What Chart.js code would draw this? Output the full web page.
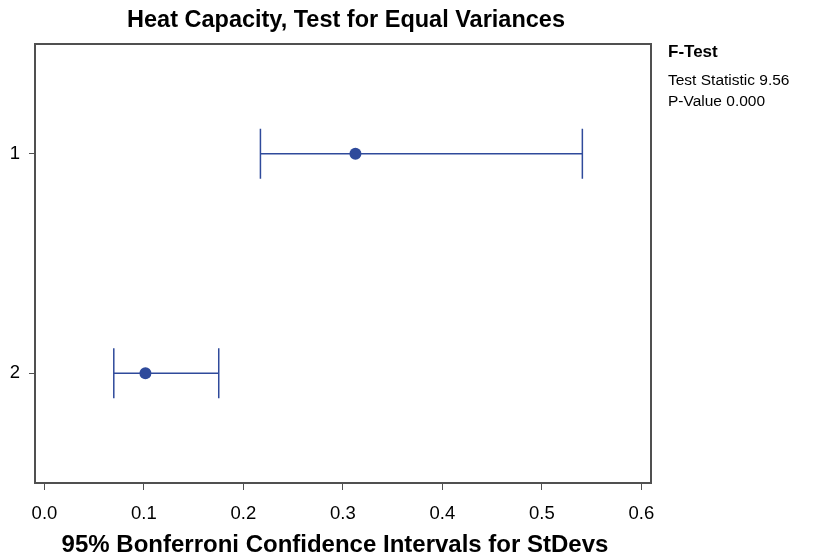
<!DOCTYPE html>
<html>
<head>
<meta charset="utf-8">
<title>Heat Capacity, Test for Equal Variances</title>
<script src="https://cdn.jsdelivr.net/npm/chart.js@4.4.1/dist/chart.umd.min.js"></script>
<style>
  html, body { margin: 0; padding: 0; background: #fff; }
  #wrap { width: 819px; height: 559px; }
</style>
</head>
<body>
<div id="wrap"><canvas id="chart" width="819" height="559"></canvas></div>
<script>
// Données
const groups = ['1', '2'];
const groupPos = [1, 2];
const stdevs = [0.3126, 0.1015];
const lowerCI = [0.2171, 0.0697];
const upperCI = [0.5407, 0.1752];
const xTicks = [0, 0.1, 0.2, 0.3, 0.4, 0.5, 0.6];

const chartTitle = 'Heat Capacity, Test for Equal Variances';
const xTitle = '95% Bonferroni Confidence Intervals for StDevs';
const sideTitle = 'F-Test';
const sideLines = ['Test Statistic 9.56', 'P-Value 0.000'];

const BLUE = '#2f4a9b';
const FRAME = '#505050';
const FONT = '"Liberation Sans", Arial, sans-serif';

// Intervalles de confiance (barres + traits aux extrémités)
const intervals = {
    id: 'intervals',
    beforeDatasetsDraw(chart) {
        const ctx = chart.ctx;
        const xs = chart.scales.x, ys = chart.scales.y;
        ctx.save();
        ctx.strokeStyle = BLUE;
        ctx.lineWidth = 1.5;
        groupPos.forEach((g, i) => {
            const py = ys.getPixelForValue(g);
            const x1 = xs.getPixelForValue(lowerCI[i]);
            const x2 = xs.getPixelForValue(upperCI[i]);
            ctx.beginPath();
            ctx.moveTo(x1, py); ctx.lineTo(x2, py);
            ctx.moveTo(x1, py - 25); ctx.lineTo(x1, py + 25);
            ctx.moveTo(x2, py - 25); ctx.lineTo(x2, py + 25);
            ctx.stroke();
        });
        ctx.restore();
    }
};

// Cadre + textes
const decor = {
    id: 'decor',
    afterDraw(chart) {
        const ctx = chart.ctx;
        const a = chart.chartArea;
        ctx.save();
        ctx.strokeStyle = FRAME;
        ctx.lineWidth = 2;
        ctx.strokeRect(a.left, a.top, a.right - a.left, a.bottom - a.top);

        ctx.fillStyle = '#000';
        ctx.textAlign = 'center';
        ctx.textBaseline = 'middle';
        ctx.font = 'bold 23.5px ' + FONT;
        ctx.fillText(chartTitle, 346, 21);
        ctx.font = 'bold 24px ' + FONT;
        ctx.fillText(xTitle, 335, 545);

        ctx.textAlign = 'left';
        ctx.font = 'bold 17px ' + FONT;
        ctx.fillText(sideTitle, 668, 52);
        ctx.font = '15.5px ' + FONT;
        sideLines.forEach((t, i) => ctx.fillText(t, 668, 81 + i * 21));
        ctx.restore();
    }
};

new Chart(document.getElementById('chart'), {
    type: 'scatter',
    data: {
        datasets: [{
            data: groupPos.map((g, i) => ({ x: stdevs[i], y: g })),
            backgroundColor: BLUE,
            borderWidth: 0,
            pointRadius: 6,
            pointHoverRadius: 6
        }]
    },
    options: {
        responsive: false,
        animation: false,
        layout: { padding: { top: 44, right: 168, bottom: 0, left: 0 } },
        plugins: {
            legend: { display: false },
            tooltip: { enabled: false },
            title: { display: false }
        },
        scales: {
            x: {
                type: 'linear',
                min: -0.0095,
                max: 0.6097,
                afterBuildTicks: s => { s.ticks = xTicks.map(v => ({ value: v })); },
                afterFit: s => { s.height = 76; },
                border: { display: false },
                grid: { drawOnChartArea: false, tickLength: 7, tickColor: FRAME, tickWidth: 1 },
                ticks: {
                    color: '#000',
                    padding: 13,
                    font: { family: FONT, size: 18.5 },
                    callback: v => v.toFixed(1)
                }
            },
            y: {
                type: 'linear',
                reverse: true,
                min: 0.5,
                max: 2.5,
                afterBuildTicks: s => { s.ticks = groupPos.map(v => ({ value: v })); },
                afterFit: s => { s.width = 35; },
                border: { display: false },
                grid: { drawOnChartArea: false, tickLength: 6, tickColor: FRAME, tickWidth: 1 },
                ticks: {
                    color: '#000',
                    padding: 9,
                    font: { family: FONT, size: 18.5 },
                    callback: v => groups[groupPos.indexOf(v)]
                }
            }
        }
    },
    plugins: [intervals, decor]
});
</script>
</body>
</html>
